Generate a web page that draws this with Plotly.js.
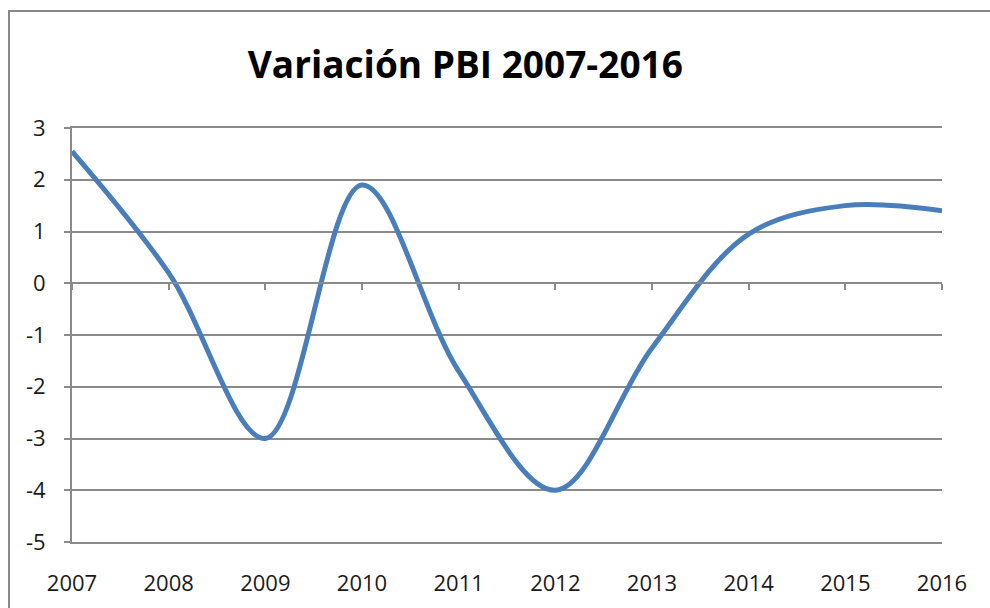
<!DOCTYPE html>
<html>
<head>
<meta charset="utf-8">
<script src="https://cdn.plot.ly/plotly-3.0.1.min.js"></script>
<style>
  html, body { margin: 0; padding: 0; overflow: hidden; background: #ffffff; width: 990px; height: 608px; }
  #frame { position: absolute; left: 8px; top: 10px; width: 1000px; height: 620px;
           border-left: 2px solid #888888; border-top: 2px solid #888888; box-sizing: border-box; }
  #chart { position: absolute; left: 0; top: 0; width: 990px; height: 608px; }
</style>
</head>
<body>
<div id="frame"></div>
<div id="chart"></div>
<script>
// Data
const years = [2007, 2008, 2009, 2010, 2011, 2012, 2013, 2014, 2015, 2016];
const variacion = [2.55, 0.2, -3.0, 1.9, -1.7, -4.0, -1.25, 0.95, 1.5, 1.4];
const yTicks = [3, 2, 1, 0, -1, -2, -3, -4, -5];
const xTickLabels = years.map(String);

const gridColor = '#8a8a8a';
const textColor = '#1a1a1a';
const tickFont = { family: 'Open Sans, sans-serif', size: 22, color: textColor };

const traces = [
  {
    x: years, y: variacion, type: 'scatter', mode: 'lines',
    line: { color: '#4a7ebb', width: 5, shape: 'spline', smoothing: 1 },
    hoverinfo: 'x+y', showlegend: false
  },
  {
    x: years, y: variacion, type: 'scatter', mode: 'lines', xaxis: 'x2', yaxis: 'y',
    line: { color: 'rgba(0,0,0,0)', width: 0 }, hoverinfo: 'skip', showlegend: false
  }
];

const layout = {
  width: 990, height: 608,
  paper_bgcolor: 'rgba(0,0,0,0)', plot_bgcolor: 'rgba(0,0,0,0)',
  margin: { l: 72, r: 48, t: 128, b: 66 },
  title: {
    text: '<b>Variación PBI 2007-2016</b>',
    font: { family: 'Liberation Sans Narrow, Open Sans, sans-serif', size: 37, color: '#000000' },
    x: 0.47, xanchor: 'center', y: 0.893, yanchor: 'middle'
  },
  xaxis: {
    range: [2007, 2016], tickvals: years, ticktext: xTickLabels,
    showgrid: false, zeroline: false, showline: true, mirror: true,
    linecolor: gridColor, linewidth: 2, ticks: '',
    ticklabelstandoff: 21, tickfont: tickFont, fixedrange: true
  },
  xaxis2: {
    overlaying: 'x', anchor: 'free', position: 0.625, range: [2007, 2016],
    tickvals: years, showticklabels: false, showgrid: false, zeroline: false,
    showline: true, linecolor: gridColor, linewidth: 2,
    ticks: 'outside', ticklen: 6, tickwidth: 2, tickcolor: gridColor, fixedrange: true
  },
  yaxis: {
    range: [-5, 3], tickvals: yTicks, ticktext: yTicks.map(String),
    showgrid: true, gridcolor: gridColor, gridwidth: 2, zeroline: false,
    showline: true, linecolor: gridColor, linewidth: 2,
    ticks: 'outside', ticklen: 6, tickwidth: 2, tickcolor: gridColor,
    ticklabelstandoff: 14, tickfont: tickFont, fixedrange: true
  },
  showlegend: false
};

Plotly.newPlot('chart', traces, layout, { displayModeBar: false, staticPlot: true });
</script>
</body>
</html>
